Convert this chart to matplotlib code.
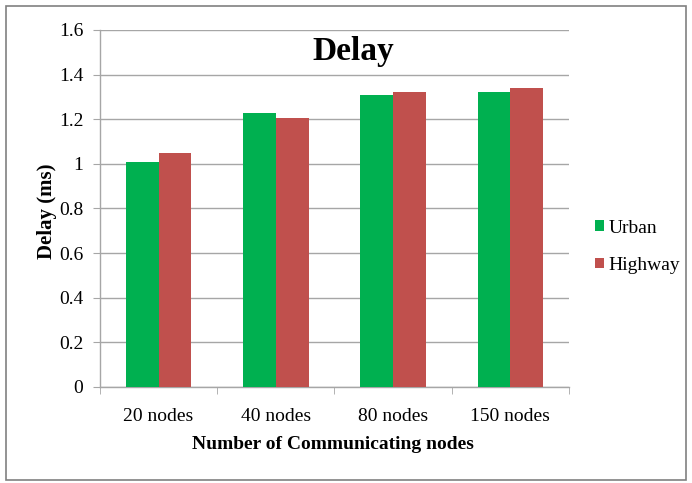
import matplotlib.pyplot as plt
import numpy as np
from matplotlib.patches import Rectangle

plt.rcParams['font.family'] = ['Liberation Serif', 'DejaVu Serif']

categories = ['20 nodes', '40 nodes', '80 nodes', '150 nodes']
urban = [1.01, 1.23, 1.31, 1.32]
highway = [1.05, 1.205, 1.32, 1.34]
y_ticks = [0, 0.2, 0.4, 0.6, 0.8, 1.0, 1.2, 1.4, 1.6]
y_labels = ['0', '0.2', '0.4', '0.6', '0.8', '1', '1.2', '1.4', '1.6']

green = '#00B050'
red = '#C0504D'
grid_col = '#A6A6A6'

fig = plt.figure(figsize=(6.92, 4.83), dpi=100)
ax = fig.add_axes([0.1445, 0.1988, 0.6777, 0.7391])

x = np.arange(len(categories))
w = 0.28
ax.bar(x - w / 2, urban, w, color=green, label='Urban', zorder=3)
ax.bar(x + w / 2, highway, w, color=red, label='Highway', zorder=3)

ax.set_xlim(-0.5, len(categories) - 0.5)
ax.set_ylim(0, 1.6)
ax.set_yticks(y_ticks)
ax.set_yticklabels(y_labels, fontsize=14)
ax.set_xticks(x)
ax.set_xticklabels(categories, fontsize=14)
ax.tick_params(axis='x', length=0, pad=15)
ax.tick_params(axis='y', length=5, color=grid_col, pad=7)

# category separator ticks under the x axis
ax.set_xticks(np.arange(-0.5, len(categories)), minor=True)
ax.tick_params(axis='x', which='minor', length=5, color=grid_col)

ax.grid(axis='y', color=grid_col, linewidth=1, zorder=0)
ax.set_axisbelow(True)
for s in ['top', 'right']:
    ax.spines[s].set_visible(False)
for s in ['left', 'bottom']:
    ax.spines[s].set_color(grid_col)
    ax.spines[s].set_linewidth(1)

ax.set_ylabel('Delay (ms)', fontsize=15, fontweight='bold')
ax.yaxis.set_label_coords(-0.092, 0.493)
ax.set_xlabel('Number of Communicating nodes', fontsize=14, fontweight='bold')
ax.xaxis.set_label_coords(0.496, -0.138)
ax.text(0.54, 0.94, 'Delay', transform=ax.transAxes, ha='center',
        va='center', fontsize=24, fontweight='bold')

leg = fig.legend(loc='center left', bbox_to_anchor=(0.835, 0.489),
                 frameon=False, fontsize=14, handlelength=0.47,
                 handleheight=0.47, handletextpad=0.22, labelspacing=1.05)

# outer frame around the whole chart
fig.patches.append(Rectangle((0.008, 0.006), 0.984, 0.982,
                             transform=fig.transFigure, fill=False,
                             edgecolor='#808080', linewidth=1.2))

fig.savefig('out.png', dpi=100, facecolor='white')
